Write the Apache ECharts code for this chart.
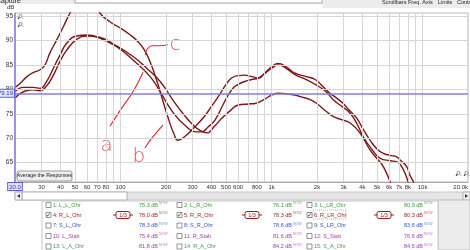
<!DOCTYPE html>
<html><head><meta charset="utf-8">
<script src="https://cdn.jsdelivr.net/npm/echarts@6/dist/echarts.min.js"></script>
<style>html,body{margin:0;padding:0;background:#fff;}#c{width:470px;height:250px;}</style>
</head><body><div id="c"></div>
<script>
// ---- data (frequency Hz, level dB) ----
const curveRLR = [[20,80.4],[21.6,81.2],[24,82.6],[26.4,83.4],[29.3,84.0],[31.6,85.0],[34,87.4],[37.8,90.1],[41.8,92.8],[46.3,95.6],[52,98],[60,99.5],[68,98],[73,95.6],[85,93.8],[100,92.5],[115,91.2],[128,90.0],[142,88.3],[157,85.6],[175,81.5],[190,77.8],[210,73.5],[225,71],[240,69.6],[265,70.3],[303,72.0],[360,74.5],[400,76.5],[444,78.5],[500,81],[544,82.3],[600,82.8],[666,82.9],[740,82.6],[818,82.3],[900,83.3],[1000,84.6],[1108,85.3],[1250,84.6],[1430,83.3],[1700,82.6],[1944,82.0],[2200,80.5],[2438,79.2],[2700,78.2],[2986,77.1],[3300,75.6],[3664,74.1],[4050,71.8],[4488,69.6],[4992,67.8],[5498,66.9],[6092,66.5],[6744,66.2],[7070,65.6],[7854,64.2],[8206,62.6],[8690,61.1],[9500,58]];
const curveRR = [[20,79.5],[22.7,80.4],[26.4,80.4],[29.3,80.2],[32.4,81.6],[35.9,84.3],[39.7,87.0],[44,89.4],[51.2,90.9],[60,91.1],[73.5,90.4],[94.2,88.7],[121,86.0],[157,82.6],[183,79.5],[220,75.5],[270,72.5],[320,71.3],[344,71.3],[380,72.3],[422,73.7],[480,77],[544,79.9],[600,81],[666,81.6],[740,82],[818,82.3],[900,83.2],[1000,84.3],[1108,85.0],[1250,84.3],[1430,83.0],[1700,82],[1944,81.0],[2300,79.5],[2572,77.8],[2986,76.3],[3318,75.1],[3700,72.8],[4050,70.3],[4600,67.8],[5242,65.9],[6092,65.4],[6744,65.2],[7400,63.8],[8032,61.1],[8800,58]];
const curveRL = [[20,78.2],[22.7,79.5],[26.4,79.9],[29.3,79.7],[32.4,80.7],[35.9,82.9],[39.7,85.7],[44,88.0],[51.2,90.2],[60,90.9],[73.5,90.6],[88,89.4],[121,86.7],[149,84.3],[183,81.6],[220,78],[260,75],[300,72.8],[340,71.5],[372,71.1],[420,72.5],[468,74.1],[540,75.8],[602,76.8],[700,77.0],[778,77.1],[900,78],[1000,78.8],[1108,79.2],[1250,79.1],[1430,78.8],[1546,78.5],[1800,77.9],[1994,77.1],[2300,75.5],[2572,74.4],[2900,73.8],[3318,73.1],[3866,71.0],[4488,67.6],[5000,65.8],[5498,64.2],[6092,61.1],[6600,58]];

// hand-drawn annotation strokes and letters (frequency, dB)
const noteStrokeA = [[85.3,72.5],[101,76.0],[120.8,79.5],[141,83.5]];
const noteStrokeB = [[145,68.0],[160,69.9],[191,72.7]];
const noteStrokeC = [[206,89.1],[180,88.9],[161,88.9],[150,88.2],[146,87.0]];
const noteLetters = [['a',81,68.4],['b',132,66.2],['c',230,89.1]];

// axes
const dbTicks = [65,70,75,80,85,90,95];
const freqGrid = [[30,'30'],[40,'40'],[50,'50'],[60,'60'],[70,'70'],[80,'80'],[90,''],[100,'100'],[200,'200'],[300,'300'],[400,'400'],[500,'500'],[600,'600'],[700,''],[800,'800'],[900,''],[1000,'1k'],[2000,'2k'],[3000,'3k'],[4000,'4k'],[5000,'5k'],[6000,'6k'],[7000,'7k'],[8000,'8k'],[9000,''],[10000,'10k'],[20000,'20.0k']];
const cursorDb = 79.19;
const cursorFreq = 20.0;

// legend table
const legendNames = [['1: L_L_Ohr','2: L_R_Ohr','3: L_LR_Ohr'],['4: R_L_Ohr','5: R_R_Ohr','6: R_LR_Ohr'],['7: S_L_Ohr','8: S_R_Ohr','9: S_LR_Ohr'],['10: L_Stab','11: R_Stab','12: S_Stab'],['13: L_A_Ohr','14: R_A_Ohr','15: S_A_Ohr']];
const legendValues = [['75,3','76,1','80,9'],['78,0','78,3','80,3'],['78,3','78,6','83,6'],['75,4','81,6','76,6'],['81,8','84,2','84,5']];
const legendNameColors = ['#3a9a3a','#9a1c1c','#3358c8','#b03cb0','#4e9a4e'];
const legendValueColors = ['#3a9a3a','#9a1c1c','#3358c8','#b03cb0','#a03cc0'];
const legendChecked = [false,true,false,false,false];

// ---- chart ----
const X0 = 20, X1 = 20000, Y0 = 61.05, Y1 = 95.6;
const curveColor = '#7a1818';
const noteColor = '#e0282d';
const font = 'Liberation Sans, DejaVu Sans, sans-serif';

const gridLines = [];
freqGrid.forEach(([f, t]) => {
  const it = {xAxis: f, label: {formatter: t}};
  if (f === 20000) it.label.align = 'right';
  gridLines.push(it);
});
dbTicks.forEach(v => gridLines.push({yAxis: v, label: {formatter: String(v), fontSize: 6.5}}));

const series = [
  {type:'line', data:[[X0,Y0]], symbol:'none', lineStyle:{opacity:0}, z:1, silent:true,
   markLine:{silent:true, symbol:'none', animation:false,
     lineStyle:{color:'#d6d6d6', width:1, type:'solid'},
     label:{show:true, position:'start', distance:2, fontSize:6, color:'#333', fontFamily:font},
     data: gridLines}},
  {type:'line', data:[[X0,Y0]], symbol:'none', lineStyle:{opacity:0}, z:5, silent:true,
   markLine:{silent:true, symbol:'none', animation:false,
     lineStyle:{color:'#7f7fe6', width:1.5, type:'solid'},
     label:{show:true, position:'start', distance:1, fontSize:6, color:'#2a2ac8', fontFamily:font,
       backgroundColor:'#e4e6ff', borderColor:'#5a5ae6', borderWidth:1, padding:[1,1,0,1]},
     data:[{yAxis: cursorDb, label:{formatter: cursorDb.toFixed(2)}},
           {xAxis: cursorFreq, label:{formatter: cursorFreq.toFixed(1)}}]}},
];
[curveRL, curveRR, curveRLR].forEach((d, i) => series.push({
  type:'line', name:['R_L_Ohr','R_R_Ohr','R_LR_Ohr'][i], data:d, smooth:0.5, symbol:'none', z:3, clip:true,
  lineStyle:{color:curveColor, width:1.4}, animation:false}));
[noteStrokeA, noteStrokeB, noteStrokeC].forEach(d => series.push({
  type:'line', data:d, smooth:0.4, symbol:'none', z:4, lineStyle:{color:noteColor, width:1.1}, animation:false}));
series.push({type:'scatter', symbolSize:0, z:4, animation:false,
  data: noteLetters.map(([t,f,v]) => ({value:[f,v], name:t})),
  label:{show:true, position:'inside', formatter: p => p.name, color:noteColor, fontSize:20,
    fontFamily:'DejaVu Sans, sans-serif', fontWeight:'lighter'}});

// ---- graphic (chrome around the plot) ----
const g = [];
// top strip
g.push({type:'rect', shape:{x:0,y:0,width:470,height:4}, style:{fill:'#ececec'}, z:-1});
g.push({type:'rect', shape:{x:322,y:0,width:148,height:8}, style:{fill:'#ececec'}, z:-1});
g.push({type:'rect', shape:{x:75,y:-1,width:247,height:4}, style:{fill:'#fff', stroke:'#a8a8a8', lineWidth:1}, z:0});
g.push({type:'text', x:-4, y:1, style:{text:'Capture', fontSize:7, fill:'#222', fontFamily:font, verticalAlign:'middle'}});
[['Scrollbars',382],['Freq. Axis',408],['Limits',438],['Controls',457]].forEach(([t,x]) =>
  g.push({type:'text', x:x, y:2, style:{text:t, fontSize:5.5, fill:'#222', fontFamily:font, verticalAlign:'middle'}}));
// dB unit
g.push({type:'text', x:7, y:4, style:{text:'dB', fontSize:6, fill:'#333', fontFamily:font}});
// button
g.push({type:'rect', shape:{x:17,y:171,width:55,height:10,r:2}, style:{fill:'#eeeeee', stroke:'#9a9a9a', lineWidth:1}, z:10});
g.push({type:'text', x:44.5, y:176, style:{text:'Average the Responses', fontSize:5.2, fill:'#222', fontFamily:font, align:'center', verticalAlign:'middle'}, z:11});
// magnifier icons
[[19,17],[19,25],[457,174],[465,174]].forEach(([x,y]) => {
  g.push({type:'circle', shape:{cx:x+1.5,cy:y-1,r:1.6}, style:{fill:'#fff', stroke:'#777', lineWidth:0.8}, z:10});
  g.push({type:'line', shape:{x1:x+0.3,y1:y+0.3,x2:x-1,y2:y+1.8}, style:{stroke:'#333', lineWidth:1.2}, z:10});
  g.push({type:'line', shape:{x1:x+3,y1:y+0.5,x2:x+4.5,y2:y+2}, style:{stroke:'#777', lineWidth:0.6}, z:10});
});
// scrollbar
g.push({type:'rect', shape:{x:15,y:192,width:455,height:8}, style:{fill:'#e6e6e6', stroke:'#c8c8c8', lineWidth:1}});
g.push({type:'rect', shape:{x:22,y:192,width:105,height:8}, style:{fill:'#ffffff', stroke:'#b0b0b0', lineWidth:1}});
g.push({type:'rect', shape:{x:15,y:192,width:7,height:8}, style:{fill:'#f4f4f4', stroke:'#b0b0b0', lineWidth:1}});
g.push({type:'rect', shape:{x:463,y:192,width:7,height:8}, style:{fill:'#f4f4f4', stroke:'#b0b0b0', lineWidth:1}});
g.push({type:'polygon', shape:{points:[[17,196],[20,194],[20,198]]}, style:{fill:'#333'}});
g.push({type:'polygon', shape:{points:[[468,196],[465,194],[465,198]]}, style:{fill:'#333'}});
// legend panel
g.push({type:'rect', shape:{x:438,y:200,width:32,height:50}, style:{fill:'#ececec', stroke:'#c0c0c0', lineWidth:1}});
g.push({type:'rect', shape:{x:42,y:201,width:396,height:50}, style:{fill:'#ffffff', stroke:'#c8c8c8', lineWidth:1}});
const rowY = [205, 215, 225.5, 236, 246.5];
const cbX = [46, 177, 307], nameX = [53, 184, 314], valX = [158, 292, 423], oneThirdX = [116, 245, 377];
rowY.forEach((y, r) => {
  for (let c = 0; c < 3; c++) {
    g.push({type:'rect', shape:{x:cbX[c], y:y-2.5, width:5, height:5}, style:{fill:'#fff', stroke:'#777', lineWidth:0.8}});
    if (legendChecked[r]) g.push({type:'text', x:cbX[c]+2.5, y:y, style:{text:'✓', fontSize:6, fill:'#222', align:'center', verticalAlign:'middle', fontFamily:'DejaVu Sans'}});
    g.push({type:'text', x:nameX[c], y:y, style:{text:legendNames[r][c], fontSize:5.5, fill:legendNameColors[r], verticalAlign:'middle', fontFamily:font}});
    g.push({type:'text', x:valX[c], y:y, style:{text:legendValues[r][c]+' dB', fontSize:5.5, fill:legendValueColors[r], align:'right', verticalAlign:'middle', fontFamily:font}});
    g.push({type:'text', x:valX[c]+1, y:y-1.5, style:{text:'NOW', fontSize:3.5, fill:legendValueColors[r], verticalAlign:'middle', fontFamily:font, opacity:0.7}});
    if (legendChecked[r]) {
      g.push({type:'line', shape:{x1:oneThirdX[c]-3, y1:y, x2:oneThirdX[c]+17, y2:y}, style:{stroke:'#9a1c1c', lineWidth:1}});
      g.push({type:'rect', shape:{x:oneThirdX[c], y:y-3.5, width:14, height:7, r:2}, style:{fill:'#fff', stroke:'#9a1c1c', lineWidth:1}});
      g.push({type:'text', x:oneThirdX[c]+7, y:y, style:{text:'1/3', fontSize:5.5, fill:'#9a1c1c', align:'center', verticalAlign:'middle', fontFamily:font}});
    }
  }
});
g.push({type:'rect', shape:{x:313,y:210,width:33,height:9}, style:{fill:'none', stroke:'#888', lineWidth:0.6, lineDash:[1,1]}});

const chart = echarts.init(document.getElementById('c'), null, {renderer:'canvas'});
chart.setOption({
  animation:false,
  backgroundColor:'#ffffff',
  grid:{left:15, top:13, right:2, bottom:68, show:true, borderColor:'#b8b8b8', borderWidth:1, backgroundColor:'transparent'},
  xAxis:{type:'log', logBase:10, min:X0, max:X1, axisLabel:{show:false}, axisTick:{show:false}, splitLine:{show:false}, axisLine:{show:true, lineStyle:{color:'#a8a8a8'}}},
  yAxis:{type:'value', min:Y0, max:Y1, axisLabel:{show:false}, axisTick:{show:false}, splitLine:{show:false}, axisLine:{show:false}},
  series: series,
  graphic: g
});
</script></body></html>
